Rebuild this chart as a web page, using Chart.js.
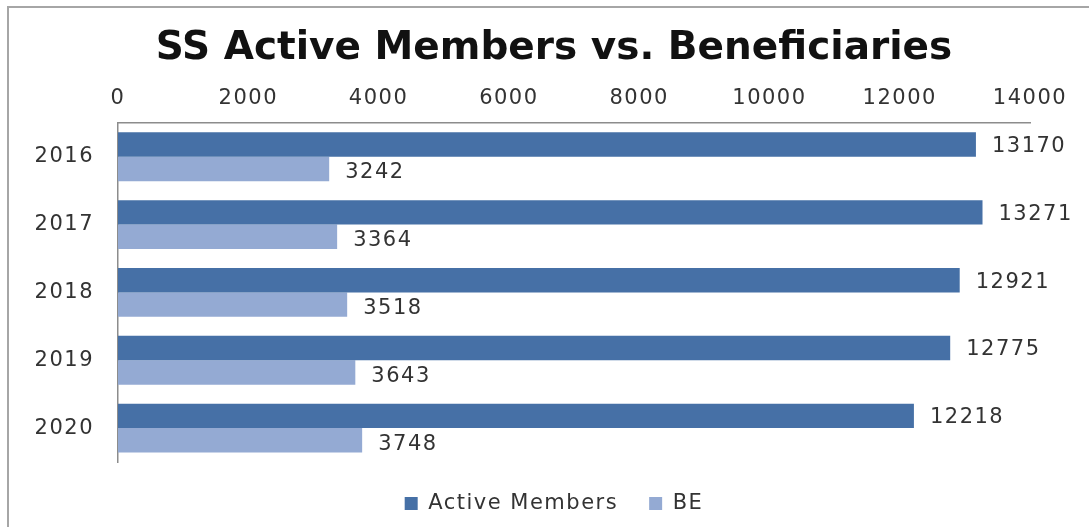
<!DOCTYPE html>
<html>
<head>
<meta charset="utf-8">
<script src="https://cdn.jsdelivr.net/npm/chart.js@4.4.0/dist/chart.umd.min.js"></script>
<style>
  html, body { margin: 0; padding: 0; background: #ffffff; overflow: hidden; }
  canvas { display: block; }
</style>
</head>
<body>
<canvas id="c" width="1089" height="527"></canvas>
<script>
const titleText = 'SS Active Members vs. Beneficiaries';
const years = ['2016', '2017', '2018', '2019', '2020'];
const activeMembers = [13170, 13271, 12921, 12775, 12218];
const beneficiaries = [3242, 3364, 3518, 3643, 3748];
const seriesNames = ['Active Members', 'BE'];
const xTicks = [0, 2000, 4000, 6000, 8000, 10000, 12000, 14000];

const FONT = "'DejaVu Sans', 'Open Sans', sans-serif";
const TEXT = '#333333';
const SPACING = '1.5px';

const framePlugin = {
  id: 'frame',
  beforeDraw(chart) {
    const ctx = chart.ctx;
    ctx.save();
    ctx.fillStyle = '#ffffff';
    ctx.fillRect(0, 0, chart.width, chart.height);
    ctx.strokeStyle = '#a6a6a6';
    ctx.lineWidth = 2;
    ctx.beginPath();
    ctx.moveTo(8, chart.height);
    ctx.lineTo(8, 7);
    ctx.lineTo(chart.width, 7);
    ctx.stroke();
    ctx.restore();
  }
};

const spacingPlugin = {
  id: 'spacing',
  beforeLayout(chart) { chart.ctx.letterSpacing = SPACING; },
  beforeDraw(chart) { chart.ctx.letterSpacing = SPACING; },
  afterInit(chart) {
    const lg = chart.legend;
    if (lg && !lg._patched) {
      const orig = lg.fit;
      lg.fit = function () { orig.call(this); this.height = 65; };
      lg._patched = true;
    }
    const tb = chart.titleBlock;
    if (tb && !tb._patched) {
      const origDraw = tb.draw;
      tb.draw = function () {
        const prev = this.ctx.letterSpacing;
        this.ctx.letterSpacing = '0px';
        origDraw.apply(this, arguments);
        this.ctx.letterSpacing = prev;
      };
      tb._patched = true;
    }
  }
};

const valueLabels = {
  id: 'valueLabels',
  afterDatasetsDraw(chart) {
    const ctx = chart.ctx;
    ctx.save();
    ctx.letterSpacing = SPACING;
    ctx.font = "21px " + FONT;
    ctx.fillStyle = TEXT;
    ctx.textAlign = 'left';
    ctx.textBaseline = 'middle';
    chart.data.datasets.forEach((ds, i) => {
      chart.getDatasetMeta(i).data.forEach((bar, j) => {
        ctx.fillText(String(ds.data[j]), bar.x + 16, bar.y + (i === 0 ? 2 : 4));
      });
    });
    ctx.restore();
  }
};

new Chart(document.getElementById('c'), {
  type: 'bar',
  data: {
    labels: years,
    datasets: [
      { label: seriesNames[0], data: activeMembers, backgroundColor: '#4670a6',
        borderWidth: 0, categoryPercentage: 0.72, barPercentage: 1.0 },
      { label: seriesNames[1], data: beneficiaries, backgroundColor: '#94aad3',
        borderWidth: 0, categoryPercentage: 0.72, barPercentage: 1.0 }
    ]
  },
  options: {
    indexAxis: 'y',
    responsive: false,
    animation: false,
    devicePixelRatio: 1,
    layout: { padding: { left: 29, right: 10, top: 25, bottom: 0 } },
    scales: {
      x: {
        position: 'top',
        min: 0, max: 14000,
        afterBuildTicks(scale) { scale.ticks = xTicks.map(v => ({ value: v })); },
        afterFit(scale) { scale.height = 51; },
        grid: { display: false, drawTicks: false },
        border: { display: true, color: '#8c8c8c', width: 1.5 },
        ticks: { color: TEXT, font: { family: FONT, size: 21 }, padding: 12, maxRotation: 0,
                 callback: v => String(v) }
      },
      y: {
        afterFit(scale) { scale.width = 89; },
        grid: { display: false, drawTicks: false },
        border: { display: true, color: '#8c8c8c', width: 1.5 },
        ticks: { color: TEXT, font: { family: FONT, size: 21 }, padding: 24 }
      },
      yRight: {
        type: 'category',
        position: 'right',
        display: true,
        afterFit(scale) { scale.width = 49; },
        grid: { display: false, drawTicks: false },
        border: { display: false },
        ticks: { display: false }
      }
    },
    plugins: {
      title: {
        display: true, text: titleText, color: '#111111',
        font: { family: FONT, size: 39, weight: 'bold' },
        padding: { top: 0, bottom: 0 }
      },
      legend: {
        position: 'bottom',
        labels: { color: TEXT, font: { family: FONT, size: 21 }, boxWidth: 13, boxHeight: 13, padding: 31 }
      },
      tooltip: { enabled: false }
    }
  },
  plugins: [framePlugin, spacingPlugin, valueLabels]
});
</script>
</body>
</html>
